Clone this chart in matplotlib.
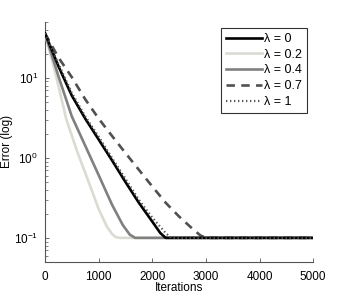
import matplotlib
matplotlib.use("Agg")
import matplotlib.pyplot as plt

plt.rcParams['font.family'] = ['Liberation Sans', 'DejaVu Sans']
plt.rcParams['mathtext.fontset'] = 'custom'
plt.rcParams['mathtext.rm'] = 'Liberation Sans'

# data (iterations, error)
it_l0 = [0, 250, 500, 750, 1000, 1250, 1500, 1750, 2000, 2150, 2250, 5000]
err_l0 = [36, 14, 6.0, 3.1, 1.7, 0.93, 0.50, 0.275, 0.16, 0.115, 0.1, 0.1]

it_l02 = [0, 200, 400, 600, 800, 1000, 1150, 1250, 1320, 1400, 5000]
err_l02 = [36, 11, 3.0, 1.2, 0.53, 0.23, 0.14, 0.112, 0.102, 0.1, 0.1]

it_l04 = [0, 250, 500, 750, 1000, 1250, 1450, 1580, 1680, 5000]
err_l04 = [36, 10.5, 3.3, 1.42, 0.61, 0.26, 0.145, 0.11, 0.1, 0.1]

it_l07 = [0, 250, 500, 750, 1000, 1250, 1500, 1750, 2000, 2250, 2500, 2750, 2900, 3000, 5000]
err_l07 = [36, 18, 10.2, 5.4, 3.1, 1.88, 1.15, 0.71, 0.44, 0.275, 0.185, 0.13, 0.107, 0.1, 0.1]

it_l1 = [0, 250, 500, 750, 1000, 1250, 1500, 1750, 2000, 2250, 2350, 5000]
err_l1 = [36, 15, 6.5, 3.3, 1.85, 1.0, 0.55, 0.30, 0.18, 0.115, 0.1, 0.1]

labels = ['λ = 0', 'λ = 0.2', 'λ = 0.4', 'λ = 0.7', 'λ = 1']
xticks = [0, 1000, 2000, 3000, 4000, 5000]

fig = plt.figure(figsize=(3.46, 2.96), dpi=100)
ax = fig.add_axes([0.130, 0.115, 0.775, 0.811])

ax.plot(it_l0, err_l0, color='black', lw=1.9, label=labels[0], zorder=5)
ax.plot(it_l02, err_l02, color='#dadbd3', lw=1.9, label=labels[1], zorder=3)
ax.plot(it_l04, err_l04, color='#808080', lw=1.9, label=labels[2], zorder=4)
ax.plot(it_l07, err_l07, color='#505050', lw=1.9, ls=(0, (3.2, 2.4)), label=labels[3], zorder=4)
ax.plot(it_l1, err_l1, color='#555555', lw=1.6, ls=(0, (0.6, 1.2)), label=labels[4], zorder=6)

ax.set_yscale('log')
ax.set_xlim(0, 5000)
ax.set_ylim(0.05, 50)
ax.set_xticks(xticks)
ax.set_xticklabels([str(t) for t in xticks])
ax.set_yticks([0.1, 1, 10])

for s in ['top', 'right']:
    ax.spines[s].set_visible(False)
for s in ['left', 'bottom']:
    ax.spines[s].set_color('#555555')
    ax.spines[s].set_linewidth(0.8)

ax.tick_params(axis='both', which='major', direction='in', length=3, width=0.6,
               labelsize=8.5, colors='#555555', labelcolor='black')
ax.tick_params(axis='y', which='minor', direction='in', length=1.8, width=0.5, colors='#555555')
ax.tick_params(axis='x', pad=6.5)
ax.tick_params(axis='y', pad=5)

ax.set_xlabel('Iterations', fontsize=8.5)
ax.set_ylabel('Error (log)', fontsize=8.5)
ax.xaxis.set_label_coords(0.5, -0.085)
ax.yaxis.set_label_coords(-0.118, 0.5)

leg = ax.legend(loc='upper right', bbox_to_anchor=(0.978, 0.975), fontsize=9,
                frameon=True, fancybox=False, handlelength=2.9, handletextpad=0.2,
                labelspacing=0.3, borderpad=0.4, borderaxespad=0)
leg.get_frame().set_edgecolor('black')
leg.get_frame().set_linewidth(0.8)

fig.savefig('out.png', dpi=100)
